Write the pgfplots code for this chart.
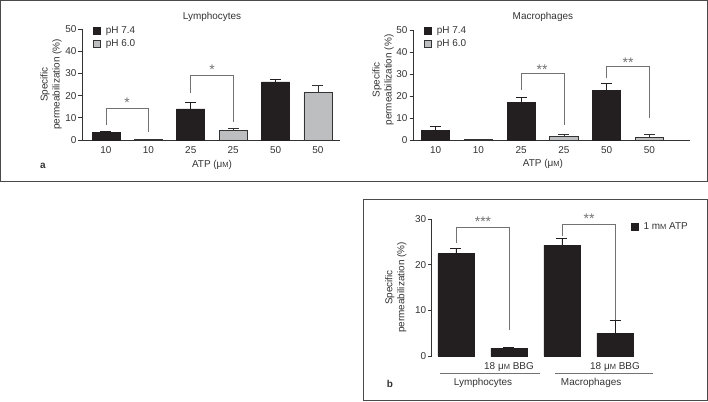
\documentclass[border=0pt]{standalone}
\usepackage{pgfplots}
\pgfplotsset{compat=1.18}
\usepackage{fontspec}
\setmainfont{Liberation Sans}
\definecolor{barblack}{HTML}{231F20}
\definecolor{bargrey}{HTML}{BCBEC0}
\definecolor{txt}{HTML}{333333}
\definecolor{brk}{HTML}{727272}
\definecolor{frm}{HTML}{4A4A4A}
\newcommand{\smM}{{\fontsize{7.5}{8}\selectfont M}}
\newcommand{\fs}{\fontsize{10}{12}\selectfont}
\tikzset{stars/.style={font=\fontsize{14}{14}\selectfont, text=brk, inner sep=0pt}}
\pgfplotsset{
  panel/.style={
    scale only axis,
    axis x line*=bottom, axis y line*=left,
    axis line style={draw=txt, line width=0.7bp},
    tick align=outside,
    ytick style={draw=txt, line width=0.7bp},
    major tick length=3.5bp,
    xtick style={draw=none},
    tick label style={font=\fs, text=txt},
    yticklabel style={xshift=1.5bp},
    /pgf/number format/assume math mode=true,
    label style={font=\fs, text=txt},
    ylabel style={align=center, anchor=center},
    clip=false,
    bar width=0.66,
    legend cell align=left,
    legend style={draw=none, fill=none, inner sep=0pt, outer sep=0pt,
      font=\fs, text=txt, row sep=1bp, column sep=3bp, anchor=north west},
  },
  sqlegend/.style={legend image code/.code={\draw[##1] (0bp,-3.5bp) rectangle (7bp,3.5bp);}},
  bk/.style={ybar, bar shift=0pt, fill=barblack, draw=barblack, line width=0.6bp, sqlegend,
    error bars/.cd, y dir=plus, y explicit,
    error bar style={draw=barblack, line width=0.7bp},
    error mark options={rotate=90, mark size=5.5bp, draw=barblack, line width=0.7bp}},
  gy/.style={ybar, bar shift=0pt, fill=bargrey, draw=txt, line width=0.8bp, sqlegend,
    error bars/.cd, y dir=plus, y explicit,
    error bar style={draw=txt, line width=0.7bp},
    error mark options={rotate=90, mark size=5.5bp, draw=txt, line width=0.7bp}},
  bracket/.style={draw=brk, line width=0.6bp, mark=none, forget plot},
}
\begin{document}
\begin{tikzpicture}
\useasboundingbox (0bp,0bp) rectangle (708bp,402bp);
\draw[frm, line width=1bp] (0.5bp,220.5bp) rectangle (707.5bp,401.5bp);
\draw[frm, line width=1bp] (363.5bp,1.5bp) rectangle (707.5bp,202.5bp);
\node[font=\fontsize{10}{12}\selectfont\bfseries, text=txt] at (43bp,236bp) {a};
\node[font=\fontsize{10}{12}\selectfont\bfseries, text=txt] at (390bp,18bp) {b};

% ---------- Lymphocytes ----------
\begin{axis}[panel, at={(82bp,262bp)}, anchor=south west,
  width=258bp, height=111bp,
  xmin=-0.566, xmax=5.52, ymin=0, ymax=50,
  ytick={0,10,20,30,40,50},
  xtick={0,1,2,3,4,5}, xticklabels={10,10,25,25,50,50},
  title={Lymphocytes},
  title style={at={(axis description cs:0.504,1)}, anchor=center, yshift=6bp, font=\fs, text=txt},
  xlabel={ATP (μ\smM)},
  xlabel style={at={(axis description cs:0.504,0)}, anchor=center, yshift=-25bp},
  ylabel={Specific\\permeabilization (\%)},
  ylabel style={at={(axis description cs:0,0.5)}, yshift=31bp},
  legend style={at={(axis description cs:0.043,1.04)}},
]
\addplot[bk] coordinates {(0,3.6) +- (0,0.4) (2,14) +- (0,3) (4,26.2) +- (0,1.1)};
\addlegendentry{pH 7.4}
\addplot[gy] coordinates {(1,0.4) +- (0,0) (3,4.1) +- (0,1.3) (5,21.3) +- (0,3.3)};
\addlegendentry{pH 6.0}
\addplot[bracket] coordinates {(0,6.8) (0,14.4) (1,14.4) (1,3.6)};
\addplot[bracket] coordinates {(2,21.2) (2,29.3) (3,29.3) (3,8.1)};
\node[stars] at (axis cs:0.5,17) {*};
\node[stars] at (axis cs:2.5,31.8) {*};
\end{axis}

% ---------- Macrophages ----------
\begin{axis}[panel, at={(413bp,262bp)}, anchor=south west,
  width=277bp, height=110bp,
  xmin=-0.53, xmax=5.95, ymin=0, ymax=50,
  ytick={0,10,20,30,40,50},
  xtick={0,1,2,3,4,5}, xticklabels={10,10,25,25,50,50},
  title={Macrophages},
  title style={at={(axis description cs:0.469,1)}, anchor=center, yshift=7bp, font=\fs, text=txt},
  xlabel={ATP (μ\smM)},
  xlabel style={at={(axis description cs:0.469,0)}, anchor=center, yshift=-24bp},
  ylabel={Specific\\permeabilization (\%)},
  ylabel style={at={(axis description cs:0,0.545)}, yshift=30bp},
  legend style={at={(axis description cs:0.04,1.05)}},
]
\addplot[bk] coordinates {(0,4.2) +- (0,1.9) (2,17) +- (0,2.3) (4,22.6) +- (0,3.2)};
\addlegendentry{pH 7.4}
\addplot[gy] coordinates {(1,0.3) +- (0,0) (3,1.5) +- (0,0.9) (5,1.1) +- (0,1.3)};
\addlegendentry{pH 6.0}
\addplot[bracket] coordinates {(2,22.7) (2,30.3) (3,30.3) (3,6.8)};
\addplot[bracket] coordinates {(4,28) (4,33.6) (5,33.6) (5,10)};
\node[stars] at (axis cs:2.49,32.1) {**};
\node[stars] at (axis cs:4.5,35.3) {**};
\end{axis}

% ---------- Panel b ----------
\begin{axis}[panel, at={(431.7bp,46bp)}, anchor=south west,
  width=209.8bp, height=137bp,
  xmin=-0.458, xmax=3.5, ymin=0, ymax=30,
  bar width=0.68,
  x axis line style={draw=none},
  ytick={0,10,20,30},
  xtick={0,1,2,3}, xticklabels={{},{18 μ\smM{} BBG},{},{18 μ\smM{} BBG}},
  ylabel={Specific\\permeabilization (\%)},
  ylabel style={at={(axis description cs:0,0.5)}, yshift=36bp},
  legend style={at={(axis description cs:0.95,0.99)}},
]
\addplot[bk] coordinates {(0,22.4) +- (0,1.2) (1,1.7) +- (0,0.2) (2,24.3) +- (0,1.5) (3,5.0) +- (0,2.7)};
\addlegendentry{1 m\smM{} ATP}
\addplot[bracket] coordinates {(0,24.7) (0,28.2) (1,28.2) (1,5.7)};
\addplot[bracket] coordinates {(2,26.2) (2,28.9) (3,28.9) (3,7.9)};
\node[stars] at (axis cs:0.51,29.3) {***};
\node[stars] at (axis cs:2.51,30.0) {**};
\draw[brk, line width=0.6bp] (axis cs:-0.30,-3.73) -- (axis cs:1.585,-3.73);
\draw[brk, line width=0.6bp] (axis cs:1.87,-3.73) -- (axis cs:3.72,-3.73);
\node[font=\fs, text=txt] at (axis cs:0.51,-5.92) {Lymphocytes};
\node[font=\fs, text=txt] at (axis cs:2.55,-5.92) {Macrophages};
\end{axis}
\end{tikzpicture}
\end{document}
